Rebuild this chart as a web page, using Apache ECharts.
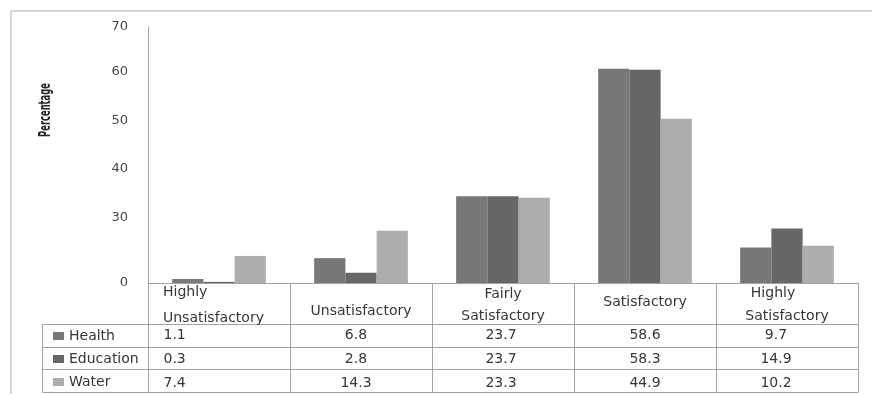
<!DOCTYPE html>
<html>
<head>
<meta charset="utf-8">
<script src="https://cdn.jsdelivr.net/npm/echarts@6/dist/echarts.min.js"></script>
<style>
  html, body { margin: 0; padding: 0; background: #ffffff; }
  #chart { width: 872px; height: 394px; }
</style>
</head>
<body>
<div id="chart"></div>
<script>
// Satisfaction ratings for public services (percent of respondents)
const categories = ['Highly Unsatisfactory', 'Unsatisfactory', 'Fairly Satisfactory', 'Satisfactory', 'Highly Satisfactory'];
const seriesNames = ['Health', 'Education', 'Water'];
const health = [1.1, 6.8, 23.7, 58.6, 9.7];
const education = [0.3, 2.8, 23.7, 58.3, 14.9];
const water = [7.4, 14.3, 23.3, 44.9, 10.2];
const yTickLabels = ['0', '30', '40', '50', '60', '70'];
const yTitle = 'Percentage';

const seriesValues = [health, education, water];
const colors = ['#787878', '#666666', '#adadad'];
const lineColor = '#a3a3a3';
const textColor = '#363636';
const font = "'DejaVu Sans', Verdana, sans-serif";
const tableFont = 14;

// axis values at which the y tick labels sit
const yLabelAnchors = [0, 17.9, 31.2, 44.3, 57.7, 70];

// header cell layout, one rich style set per column
const headerRich = {
  h0a: { width: 112, align: 'left', lineHeight: 26 },
  h0b: { width: 112, align: 'left', lineHeight: 26 },
  h1: { lineHeight: 65 },
  h2a: { lineHeight: 30 },
  h2b: { lineHeight: 14 },
  h3: { lineHeight: 47 },
  h4a: { lineHeight: 28, padding: [0, 28, 0, 0] },
  h4b: { lineHeight: 19 }
};
Object.keys(headerRich).forEach(k => Object.assign(headerRich[k], { fontFamily: font, fontSize: tableFont, color: textColor }));

function headerText(name, i) {
  const w = name.split(' ');
  switch (i) {
    case 0: return `{h0a|${w[0]}}\n{h0b|${w[1]}}`;
    case 1: return `{h1|${name}}`;
    case 2: return `{h2a|${w[0]}}\n{h2b|${w[1]}}`;
    case 3: return `{h3|${name}}`;
    default: return `{h4a|${w[0]}}\n{h4b|${w[1]}}`;
  }
}

// value cell styles: first column left aligned, others centred with small shifts
const cellRich = {
  c0: { width: 111, align: 'left' },
  c1: { padding: [0, 10, 0, 0] },
  c2: { padding: [0, 4, 0, 0] },
  c3: {},
  c4: { padding: [0, 22, 0, 0] }
};
Object.keys(cellRich).forEach(k => Object.assign(cellRich[k], { fontFamily: font, fontSize: tableFont, color: textColor }));

function rowAxis(values, offset, margin) {
  return {
    type: 'category',
    data: categories,
    position: 'bottom',
    offset: offset,
    axisLine: { show: true, lineStyle: { color: lineColor, width: 1 } },
    axisTick: { show: false },
    splitLine: { show: false },
    axisLabel: {
      interval: 0,
      margin: margin,
      verticalAlign: 'middle',
      formatter: (v, i) => `{c${i}|${values[i].toFixed(1)}}`,
      rich: cellRich
    }
  };
}

const chart = echarts.init(document.getElementById('chart'), null, { renderer: 'canvas' });

chart.setOption({
  animation: false,
  backgroundColor: '#ffffff',
  grid: { left: 148, right: 14, top: 27, bottom: 111, containLabel: false },
  legend: {
    type: 'plain',
    data: seriesNames,
    orient: 'vertical',
    left: 48,
    top: 324,
    height: 120,
    icon: 'rect',
    itemWidth: 11,
    itemHeight: 8,
    itemGap: 9,
    selectedMode: false,
    textStyle: { fontFamily: font, fontSize: tableFont, color: textColor, padding: [0, 0, 4, 0] }
  },
  xAxis: [
    {
      type: 'category',
      data: categories,
      position: 'bottom',
      axisLine: { show: true, lineStyle: { color: lineColor, width: 1 } },
      axisTick: { show: true, interval: 0, length: 109, lineStyle: { color: lineColor, width: 1 } },
      splitLine: { show: false },
      axisLabel: {
        interval: 0,
        margin: -4,
        verticalAlign: 'top',
        formatter: (v, i) => headerText(v, i),
        rich: headerRich
      }
    },
    rowAxis(health, 41, 11),
    rowAxis(education, 64, 12),
    rowAxis(water, 86, 14),
    {
      type: 'category',
      data: categories,
      position: 'bottom',
      offset: 109,
      axisLine: { show: true, lineStyle: { color: lineColor, width: 1 } },
      axisTick: { show: false },
      axisLabel: { show: false }
    }
  ],
  yAxis: {
    type: 'value',
    min: 0,
    max: 70,
    axisLine: { show: true, lineStyle: { color: lineColor, width: 1 } },
    axisTick: { show: false },
    splitLine: { show: false },
    axisLabel: {
      customValues: yLabelAnchors,
      margin: 20,
      fontFamily: font,
      fontSize: 13,
      color: '#474747',
      formatter: (v) => {
        let best = 0;
        yLabelAnchors.forEach((a, k) => { if (Math.abs(a - v) < Math.abs(yLabelAnchors[best] - v)) best = k; });
        return yTickLabels[best];
      }
    }
  },
  series: seriesNames.map((name, k) => ({
    name: name,
    type: 'bar',
    xAxisIndex: 0,
    data: seriesValues[k],
    barGap: '0%',
    barCategoryGap: '34%',
    itemStyle: { color: colors[k] }
  })),
  graphic: [
    // outer chart frame (top and left edges)
    {
      type: 'polyline',
      silent: true,
      shape: { points: [[11, 400], [11, 11], [880, 11]] },
      style: { fill: 'none', stroke: '#d6d6d6', lineWidth: 2 }
    },
    // vertical axis title, condensed along its length
    {
      type: 'text',
      silent: true,
      x: 46,
      y: 110,
      rotation: Math.PI / 2,
      scaleX: 0.62,
      style: {
        text: yTitle,
        font: "bold 15px 'DejaVu Sans Condensed', 'DejaVu Sans', sans-serif",
        fill: '#262626',
        align: 'center',
        verticalAlign: 'middle'
      }
    },
    // row-label column of the data table
    {
      type: 'polyline',
      silent: true,
      shape: { points: [[148, 324.5], [42.5, 324.5], [42.5, 392.5], [148, 392.5]] },
      style: { fill: 'none', stroke: lineColor, lineWidth: 1 }
    },
    {
      type: 'line', silent: true,
      shape: { x1: 42.5, y1: 347.5, x2: 148, y2: 347.5 },
      style: { stroke: lineColor, lineWidth: 1 }
    },
    {
      type: 'line', silent: true,
      shape: { x1: 42.5, y1: 369.5, x2: 148, y2: 369.5 },
      style: { stroke: lineColor, lineWidth: 1 }
    }
  ]
});
</script>
</body>
</html>
